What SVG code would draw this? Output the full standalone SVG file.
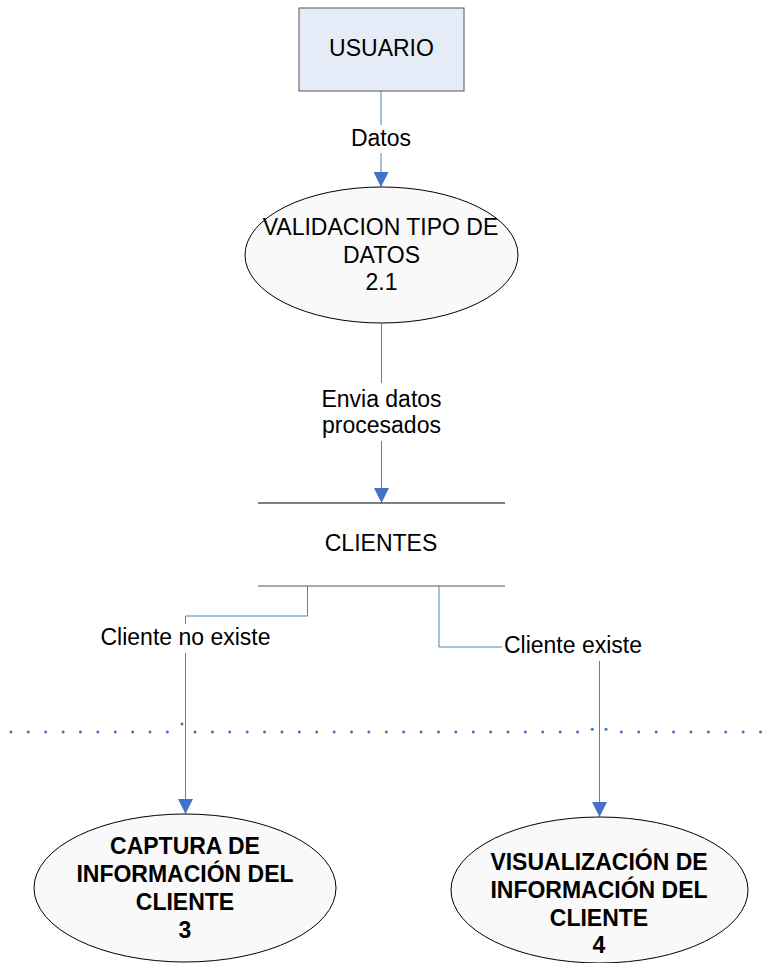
<svg xmlns="http://www.w3.org/2000/svg" width="774" height="963" viewBox="0 0 774 963">
<defs>
<style>
text{font-family:"Liberation Sans",Arial,sans-serif;font-size:23px;fill:#000;text-anchor:middle}
.b{font-weight:bold}
.conn{fill:none;stroke:#4f81bd;stroke-width:1}
.proc{fill:#f9f9f9;stroke:#000;stroke-width:1}
.lbl{fill:#fff;stroke:none}
.dots{stroke:#4472c4;stroke-width:3;stroke-linecap:round;stroke-dasharray:0 17.39;fill:none}
</style>
<marker id="arr" markerUnits="userSpaceOnUse" markerWidth="15" markerHeight="15" refX="15" refY="7.5" orient="auto">
<path d="M0,0 L15,7.5 L0,15 z" fill="#4472c4"/>
</marker>
</defs>
<rect width="774" height="963" fill="#fff"/>

<g id="separator">
<line class="dots" x1="10.9" y1="732" x2="168" y2="732"/>
<line class="dots" x1="195" y1="732" x2="578" y2="732"/>
<line class="dots" x1="621.4" y1="732" x2="761" y2="732"/>
<circle cx="182" cy="724" r="1.5" fill="#4472c4"/>
<circle cx="592.3" cy="729.3" r="1.5" fill="#4472c4"/>
<circle cx="606" cy="729.3" r="1.5" fill="#4472c4"/>
</g>

<g id="connectors">
<line class="conn" x1="381" y1="91" x2="381" y2="187" marker-end="url(#arr)"/>
<rect class="lbl" x="348" y="125" width="66" height="28"/>
<text x="381" y="145.7">Datos</text>

<line class="conn" x1="381.5" y1="323" x2="381.5" y2="503" marker-end="url(#arr)"/>
<rect class="lbl" x="315" y="383" width="133" height="58"/>
<text x="381.5" y="406.7">Envia datos</text>
<text x="381.5" y="432.7">procesados</text>

<path class="conn" d="M307.5,586 V616 H185.5 V814" marker-end="url(#arr)"/>
<rect class="lbl" x="97" y="624" width="177" height="29"/>
<text x="185.5" y="645">Cliente no existe</text>

<path class="conn" d="M439,586 V647 H599.5 V817" marker-end="url(#arr)"/>
<rect class="lbl" x="502" y="633" width="143" height="28"/>
<text x="573" y="653">Cliente existe</text>
</g>

<g id="usuario">
<rect x="299" y="8" width="165" height="83" fill="#e6ecf7" stroke="#555" stroke-width="1"/>
<text x="381.5" y="56">USUARIO</text>
</g>

<g id="validacion">
<ellipse class="proc" cx="381.5" cy="255" rx="136.5" ry="68"/>
<text x="380.5" y="235">VALIDACION TIPO DE</text>
<text x="381.5" y="262.5">DATOS</text>
<text x="381.5" y="290">2.1</text>
</g>

<g id="clientes">
<line x1="258" y1="503" x2="505" y2="503" stroke="#000" stroke-width="1"/>
<line x1="258" y1="586" x2="505" y2="586" stroke="#555" stroke-width="1"/>
<text x="381" y="551">CLIENTES</text>
</g>

<g id="captura">
<ellipse class="proc" cx="185" cy="888" rx="151" ry="74"/>
<text class="b" x="185" y="854">CAPTURA DE</text>
<text class="b" x="185" y="882">INFORMACIÓN DEL</text>
<text class="b" x="185" y="910">CLIENTE</text>
<text class="b" x="185" y="938">3</text>
</g>

<g id="visualizacion">
<ellipse class="proc" cx="599.5" cy="890" rx="148.5" ry="73"/>
<text class="b" x="599" y="870">VISUALIZACIÓN DE</text>
<text class="b" x="599" y="898">INFORMACIÓN DEL</text>
<text class="b" x="599" y="926">CLIENTE</text>
<text class="b" x="599" y="953">4</text>
</g>
</svg>
